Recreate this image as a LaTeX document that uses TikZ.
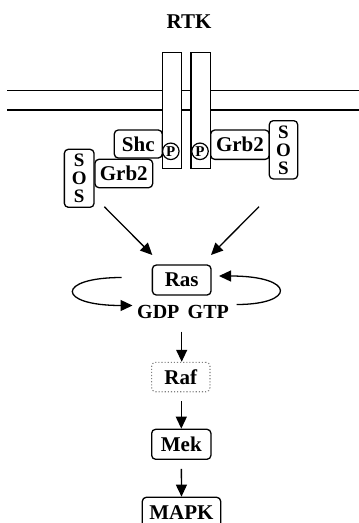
\documentclass[tikz,border=0pt]{standalone}
\usepackage{fontspec}
\setmainfont{Liberation Serif}
\usetikzlibrary{arrows.meta}
\tikzset{
  lbl/.style={font=\fontsize{21}{21}\selectfont\bfseries, inner sep=0pt},
  box/.style={draw, line width=1.3pt, rounded corners=4pt, fill=white, inner sep=0pt,
    font=\fontsize{21}{21}\selectfont\bfseries},
  sosbox/.style={box, align=center, font=\fontsize{19}{18}\selectfont\bfseries},
  dotbox/.style={draw=gray, dotted, line width=1.1pt, rounded corners=4pt, fill=white, inner sep=0pt,
    font=\fontsize{21}{21}\selectfont\bfseries},
  rec/.style={draw, line width=1.3pt, fill=white, inner sep=0pt},
  pcirc/.style={draw, circle, line width=1.2pt, fill=white, inner sep=0pt, minimum size=16.5pt,
    font=\fontsize{15}{15}\selectfont\bfseries},
  mem/.style={line width=1.3pt},
  arr/.style={line width=1.3pt, -{Triangle[length=12pt,width=11pt]}},
  cyc/.style={line width=1.3pt, -{Triangle[length=12pt,width=11pt]}},
}
\begin{document}
\begin{tikzpicture}[x=1pt,y=-1pt]
\useasboundingbox (0,0) rectangle (359,523);
\fill[white] (0,0) rectangle (359,523);
\node[lbl] (rtk) at (189,22) {RTK};
% membrane
\coordinate (m1a) at (7,90.7);
\coordinate (m1b) at (359,90.7);
\coordinate (m2a) at (7,110);
\coordinate (m2b) at (359,110);
\draw[mem] (m1a) -- (m1b);
\draw[mem] (m2a) -- (m2b);
% receptors
\node[rec, minimum width=19.4pt, minimum height=116pt] (rL) at (172,110.3) {};
\node[rec, minimum width=19.7pt, minimum height=116pt] (rR) at (200.8,110.3) {};
% adaptors
\node[box, minimum width=48pt, minimum height=28pt] (shc) at (138.3,144) {Shc};
\node[box, minimum width=57.7pt, minimum height=28.4pt] (grbL) at (123.8,173.5) {Grb2};
\node[sosbox, minimum width=29.7pt, minimum height=58pt] (sosL) at (79.2,178.3) {S\\O\\S};
\node[box, minimum width=58.6pt, minimum height=29.3pt] (grbR) at (240,144.7) {Grb2};
\node[sosbox, minimum width=28.4pt, minimum height=58.3pt] (sosR) at (283.5,149.8) {S\\O\\S};
\node[pcirc] (pL) at (170.8,151.3) {P};
\node[pcirc] (pR) at (200,151.3) {P};
% arrows to Ras
\node[box, minimum width=58.7pt, minimum height=30pt] (ras) at (181.7,280) {Ras};
\coordinate (aL) at (104.3,206.7);
\coordinate (aLe) at (152.3,255);
\coordinate (aR) at (259,206.7);
\coordinate (aRe) at (211,255);
\draw[arr] (aL) -- (aLe);
\draw[arr] (aR) -- (aRe);
% GDP GTP cycle
\node[lbl, font=\fontsize{20}{20}\selectfont\bfseries] (gdp) at (158.3,312) {GDP};
\node[lbl, font=\fontsize{20}{20}\selectfont\bfseries] (gtp) at (208.3,312) {GTP};
\coordinate (cL1) at (121.7,277.5);
\coordinate (cL2) at (132.5,305.5);
\coordinate (cR1) at (236.7,304.5);
\coordinate (cR2) at (219,276);
\draw[cyc] (cL1) .. controls (56,277.5) and (56,305.5) .. (cL2);
\draw[cyc] (cR1) .. controls (296,304.5) and (296,276) .. (cR2);
% cascade
\node[dotbox, minimum width=58.3pt, minimum height=29.4pt] (raf) at (180.8,377) {Raf};
\node[box, minimum width=59.3pt, minimum height=30pt] (mek) at (181.3,444.3) {Mek};
\node[box, minimum width=78.4pt, minimum height=30pt] (mapk) at (181.5,512.3) {MAPK};
\coordinate (s1) at (181.7,331.7);
\draw[arr] (s1) -- (s1 |- raf.north);
\draw[arr, shorten <=9pt] (raf.south -| mek.north) -- (mek.north);
\draw[arr, shorten <=9pt] (mek.south) -- (mapk.north);
\end{tikzpicture}
\end{document}
